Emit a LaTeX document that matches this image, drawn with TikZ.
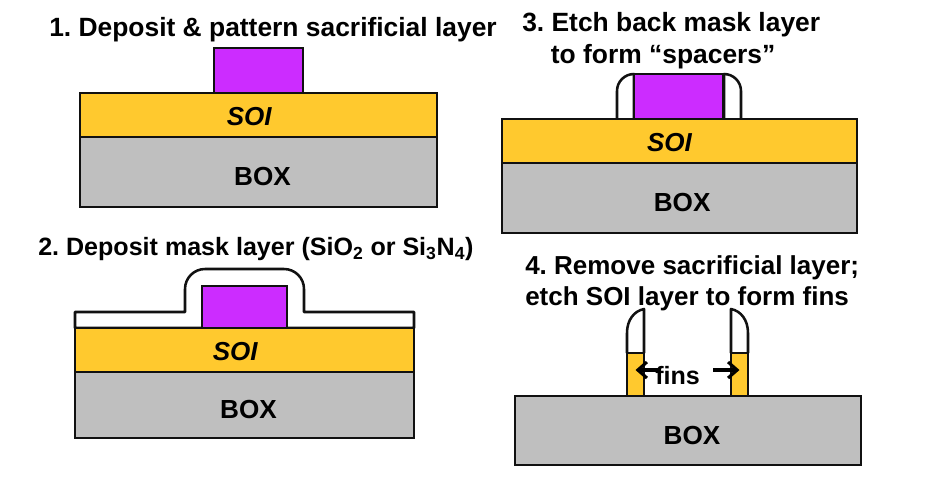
\documentclass[tikz,border=0pt]{standalone}
\usepackage{fontspec}
\setmainfont{Liberation Sans}
\frenchspacing
\usetikzlibrary{arrows.meta,positioning}
\newcommand{\px}{0.75pt}
\definecolor{SoiGold}{HTML}{FFC92E}
\definecolor{SacPurple}{HTML}{CC2CFF}
\definecolor{BoxGray}{HTML}{BFBFBF}
\definecolor{LineInk}{HTML}{111111}
\tikzset{
  layer/.style={
    draw=LineInk,
    line width=1.9pt,
    outer sep=0pt,
    inner sep=0pt
  },
  soi/.style={
    layer,
    fill=SoiGold,
    minimum height=44*\px
  },
  boxlayer/.style={
    layer,
    fill=BoxGray
  },
  soitext/.style={
    font=\fontsize{19.5}{22}\selectfont\bfseries\itshape,
    text=black,
    inner sep=0pt
  },
  boxtext/.style={
    font=\fontsize{19.6}{22}\selectfont\bfseries,
    text=black,
    inner sep=0pt
  },
  sacrificial/.style={
    draw=LineInk,
    fill=SacPurple,
    line width=1pt,
    outer sep=0pt,
    inner sep=0pt
  },
  spacer/.style={
    draw=LineInk,
    fill=white,
    line width=1.9pt,
    line join=round
  },
  title/.style={
    font=\fontsize{19.8}{24}\selectfont\bfseries,
    text=black,
    inner sep=0pt
  },
  finarrow/.style={
    -{Straight Barb[length=2.4mm,width=4.2mm,line width=2.3pt]},
    draw=black,
    line width=2.8pt
  }
}

\begin{document}
\begin{tikzpicture}[x=0.75pt,y=-0.75pt]
  \useasboundingbox (0,0) rectangle (926,480);

  % Step 1
  \node[title,anchor=west] (title-a) at (49,30) {1. Deposit \& pattern sacrificial layer};
  \node[soi,anchor=north west,minimum width=357*\px] (soi-a) at (80,93) {};
  \node[boxlayer,below=0pt of soi-a,minimum width=357*\px,minimum height=70*\px] (box-a) {};
  \node[sacrificial,anchor=south west,minimum width=89*\px,minimum height=45*\px] (sac-a) at (214,93) {};
  \node[soitext,xshift=-7pt,yshift=-0.8pt] (soi-a-text) at (soi-a) {SOI};
  \node[boxtext,xshift=3pt,yshift=-3.6pt] (box-a-text) at (box-a) {BOX};

  % Step 2
  \node[title,anchor=west,font=\fontsize{18.8}{24}\selectfont\bfseries] (title-b) at (38,249) {2. Deposit mask layer (SiO\textsubscript{2} or Si\textsubscript{3}N\textsubscript{4})};
  \draw[spacer] (75,328) -- (75,312) -- (185,312) -- (185,289)
    arc[start angle=180,end angle=270,radius=20] -- (284,269)
    arc[start angle=270,end angle=360,radius=20] -- (304,312) -- (414,312) -- (414,328) -- cycle;
  \node[soi,anchor=north west,minimum width=339*\px] (soi-b) at (75,328) {};
  \node[boxlayer,below=0pt of soi-b,minimum width=339*\px,minimum height=66*\px] (box-b) {};
  \node[sacrificial,anchor=south west,minimum width=85*\px,minimum height=42*\px] (sac-b) at (202,328) {};
  \node[soitext,xshift=-7pt,yshift=-0.8pt] (soi-b-text) at (soi-b) {SOI};
  \node[boxtext,xshift=3pt,yshift=-3.2pt] (box-b-text) at (box-b) {BOX};

  % Step 3
  \node[title,anchor=north west,align=left] (title-c) at (522,12)
    {3. Etch back mask layer\\\hspace{21.5pt}to form “spacers”};
  \draw[spacer] (617,119) -- (617,91) arc[start angle=180,end angle=270,radius=17] -- (634,119);
  \draw[spacer] (741,119) -- (741,91) arc[start angle=0,end angle=-90,radius=17] -- (724,119);
  \node[soi,anchor=north west,minimum width=355*\px] (soi-c) at (502,119) {};
  \node[boxlayer,below=0pt of soi-c,minimum width=355*\px,minimum height=70*\px] (box-c) {};
  \node[sacrificial,anchor=south west,minimum width=89*\px,minimum height=45*\px] (sac-c) at (634,119) {};
  \node[soitext,xshift=-7.5pt,yshift=-0.8pt] (soi-c-text) at (soi-c) {SOI};
  \node[boxtext,xshift=2pt,yshift=-3.6pt] (box-c-text) at (box-c) {BOX};

  % Step 4
  \node[title,anchor=north west,align=left,font=\fontsize{19.5}{23.5}\selectfont\bfseries] (title-d) at (525,255)
    {4. Remove sacrificial layer;\\etch SOI layer to form fins};
  \node[boxlayer,anchor=north west,minimum width=346*\px,minimum height=69*\px] (box-d) at (515,396) {};
  \node[boxtext,xshift=3pt,yshift=-4pt] (box-d-text) at (box-d) {BOX};
  \draw[spacer] (627,353) -- (627,333) .. controls (627,320) and (634,311) .. (644,309) -- (644,353);
  \draw[spacer] (748,353) -- (748,333) .. controls (748,320) and (741,311) .. (731,309) -- (731,353);
  \node[soi,anchor=north west,minimum width=17*\px,minimum height=43*\px] (fin-l) at (627,353) {};
  \node[soi,anchor=north west,minimum width=17*\px,minimum height=43*\px] (fin-r) at (731,353) {};
  \node[boxtext,anchor=west,font=\fontsize{18.8}{22}\selectfont\bfseries] (fins) at (655,376) {fins};
  \coordinate (fins-r) at (713,370);
  \coordinate (fins-l) at (659,370);
  \draw[finarrow] (fins-l) -- (fin-l.center |- fins-l);
  \draw[finarrow] (fins-r) -- (fin-r.center |- fins-r);
\end{tikzpicture}
\end{document}
